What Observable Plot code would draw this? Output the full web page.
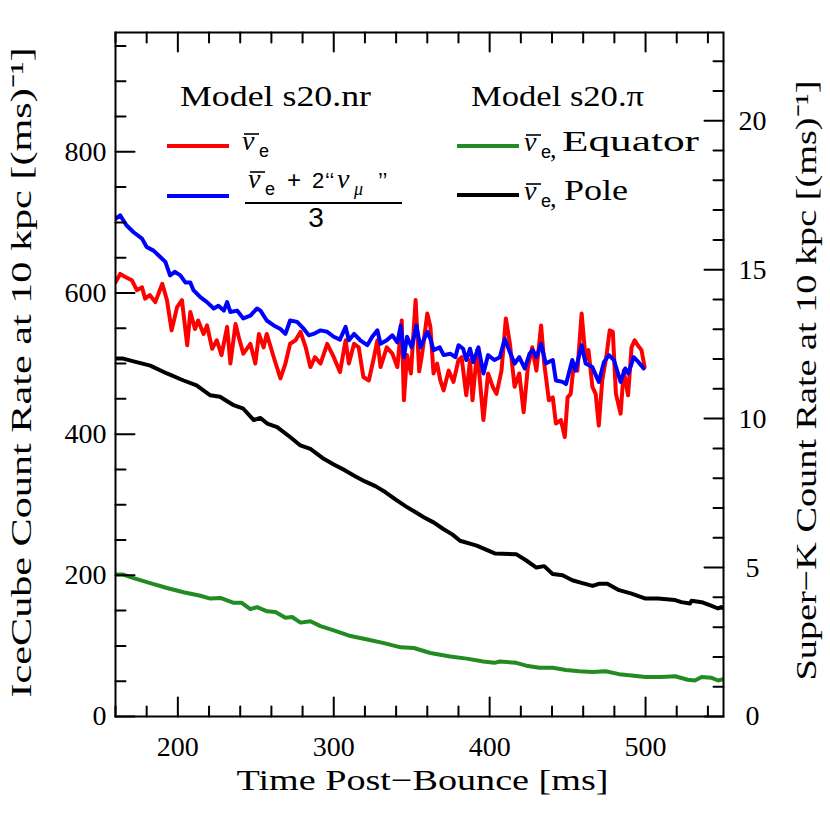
<!DOCTYPE html>
<html><head><meta charset="utf-8">
<script src="https://cdn.jsdelivr.net/npm/d3@7"></script>
<script src="https://cdn.jsdelivr.net/npm/@observablehq/plot@0.6"></script>
<style>html,body{margin:0;padding:0;background:#fff}svg{display:block}</style>
</head><body><div id="chart"></div>
<script>
// ---- data ----
const redT = [160,163,166,170.5,173.7,177,179,182,185.5,190,193,196,199.5,202.6,206,208,211,213,216.5,218.7,222,225,228,231.6,233.7,237,239,242,246.5,249.7,252,255,257,261.5,265.8,269,272,275.5,278.7,282,285,288,291.5,295.8,300,304,307.6,309.7,313,316,319,322.5,325.8,328,330,334,337.6,340.8,343.6,345,347,349.5,352.5,354.8,356.7,360,362,364,366.3,368.4,370.5,373.7,376.8,380,382,385,387.4,389,392,396,399,402,404.4,407.6,410.4,413,416,419,421.8,424.5,427.3,430,433,435,438,440.5,442.5,445.7,448.2,450,452,454,456.3,459,461.6,463.4,465.9,468,470,472.2,474.8,477,479,481,484,486,488.8,491,493,495,497.4,499.4];
const redV = [615,627,623,618,604,608,592,597,587,613,590,547,580,590,526,573,549,561,542,554,521,533,512,552,500,556,538,514,528,500,542,523,542,509,479,500,528,533,545,523,495,509,500,528,509,488,533,500,528,523,481,476,509,533,495,523,514,495,561,448,512,486,590,489,514,571,552,486,500,476,462,490,474,505,509,455,505,448,519,420,486,467,457,490,564,528,467,486,431,495,523,490,554,500,448,452,415,420,396,452,457,500,490,571,505,519,467,457,412,476,509,547,545,457,429,490,455,523,533,526,519,495];

const blueT = [160,163,167,171.6,177,180,184.4,188.7,192,195,198,201.6,204.8,208,210,214.4,218.7,223,226,229.5,231.6,233.7,238,242,246.5,250.8,253,257,261.5,265.8,269,272,276.5,280.8,284,287,291.5,295.8,300,304,307.6,309.7,313,317,321.5,324.7,328,330,334,337.6,340.8,343,345,347,350,353,355.6,360,362,364,368,370.5,374.7,378,380,383,385,387.4,389.5,392.8,396,399,403,406.5,409.7,413,416,419,422.5,425.6,427.7,430,433,436,440.5,442.5,446.8,449,451,453,455,459,461.6,465.8,470,473.3,476.5,479.7,484,487,489,492.4,495.5,498.8];
const blueV = [705,710,696,686,677,665,660,651,644,625,630,625,615,615,604,594,587,578,582,575,587,573,575,564,568,578,575,561,554,549,542,561,559,549,540,542,547,545,538,534,552,533,542,533,526,538,547,528,533,540,530,554,509,538,523,554,523,545,535,519,523,512,514,509,526,521,505,521,502,523,486,512,505,509,535,516,500,509,493,514,519,509,528,500,505,476,474,471,488,505,490,526,500,495,474,502,512,505,474,493,486,509,502,493];

const greenT = [160,165,171.6,182.3,193,203.7,214.4,220.8,227.3,235.8,241,246.5,250.8,257.3,262.6,269,273.3,278.7,285,291.5,300,310.8,321.5,332.2,343,351.4,362,374.7,385.3,396,403,406.5,417,423.5,432,440.4,449,457.4,466,474.3,483,491,500,510,519,527,531.6,536,542,546.5,550];
const greenV = [201,201,196,189,182,176,171,167,168,161,161,152,155,149,148,140,141,133,135,128,122,114,109,104,98,97,90,85,82,78,76,78,76,72,69,69,66,64,63,64,60,58,56,56,57,52,51,56,55,51,53];

const blackT = [160,165,171.6,182.3,193,203.7,212,220.8,227,235.8,242,248.7,253,257.3,263.7,272,278.6,285,293.6,300,307,314,320,327,333,340,346,352,358,364,370,376,381,391.7,403.3,417,423.5,430,435,440.4,446.8,453,459.5,466,470,475.5,483,491,500,508,519,523,528.5,529.5,536,542,546.5,548.5,550];
const blackV = [507,507,503,497,486,476,469,455,453,441,436,420,423,415,410,396,384,379,365,357,349,340,333,326,318,307,298,290,282,275,266,258,249,242,231,230,221,211,213,202,200,193,189,185,188,188,179,174,167,167,165,162,160,164,162,157,153,155,154];

// axes / ticks
const xMajor = [200,300,400,500];
const xMinor = [160,180,220,240,260,280,320,340,360,380,420,440,460,480,520,540];
const yMajor = [0,200,400,600,800];
const yMinor = [50,100,150,250,300,350,450,500,550,650,700,750,850,900,950];
const skMajor = [0,5,10,15,20];
const skMinor = [1,2,3,4,6,7,8,9,11,12,13,14,16,17,18,19,21,22];
const skPerIceCube = 42.2; // IceCube rate / Super-K rate (two axes)

const xTitle = "Time Post\u2212Bounce [ms]";
const yTitleLeft = "IceCube Count Rate at 10 kpc [(ms)\u207B\u00B9]";
const yTitleRight = "Super\u2212K Count Rate at 10 kpc [(ms)\u207B\u00B9]";
const legendTitles = ["Model s20.nr", "Model s20.\u03C0"];
const legendNames = ["Equator", "Pole"];

// ---- build table ----
const toRows = (T, V, s) => T.map((t, i) => ({t, v: V[i], s}));
const red = toRows(redT, redV, "red");
const blue = toRows(blueT, blueV, "blue");
const green = toRows(greenT, greenV, "green");
const black = toRows(blackT, blackV, "black");

const tickShape = {draw(ctx, l) { ctx.moveTo(0, 0); ctx.lineTo(0, -l); }};
const tk = (data, opts, len) => Plot.vector(data, {...opts, length: len, anchor: "start", shape: tickShape, stroke: "black", strokeWidth: 2});

const svg = Plot.plot({
  width: 830, height: 830,
  marginLeft: 115, marginRight: 107, marginTop: 32, marginBottom: 114,
  style: {fontFamily: "'Liberation Serif', serif", background: "white", color: "black"},
  x: {domain: [160, 550]},
  y: {domain: [0, 969]},
  marks: [
    Plot.line(red, {x: "t", y: "v", stroke: "#ff0000", strokeWidth: 4, clip: true}),
    Plot.line(blue, {x: "t", y: "v", stroke: "#0000ff", strokeWidth: 4, clip: true}),
    Plot.line(green, {x: "t", y: "v", stroke: "#228b22", strokeWidth: 4, clip: true}),
    Plot.line(black, {x: "t", y: "v", stroke: "#000000", strokeWidth: 4, clip: true}),
    Plot.frame({stroke: "black", strokeWidth: 2}),
    tk(xMinor, {x: d => d, frameAnchor: "bottom", rotate: 0}, 10),
    tk(xMajor, {x: d => d, frameAnchor: "bottom", rotate: 0}, 19),
    tk(xMinor, {x: d => d, frameAnchor: "top", rotate: 180}, 10),
    tk(xMajor, {x: d => d, frameAnchor: "top", rotate: 180}, 19),
    tk(yMinor, {y: d => d, frameAnchor: "left", rotate: 90}, 10),
    tk(yMajor, {y: d => d, frameAnchor: "left", rotate: 90}, 19),
    tk(skMinor, {y: d => d * skPerIceCube, frameAnchor: "right", rotate: -90}, 10),
    tk(skMajor, {y: d => d * skPerIceCube, frameAnchor: "right", rotate: -90}, 19),
    Plot.axisX({ticks: xMajor, tickSize: 0, tickPadding: 20, fontSize: 28, label: null}),
    Plot.axisY({ticks: yMajor, tickSize: 0, tickPadding: 9, fontSize: 28, label: null}),
    Plot.axisY({anchor: "right", ticks: skMajor.map(v => v * skPerIceCube), tickFormat: d => String(Math.round(d / skPerIceCube)),
      tickSize: 0, tickPadding: 29, textAnchor: "middle", fontSize: 28, label: null}),
    Plot.text([xTitle], {text: d => d, frameAnchor: "bottom", dy: 73, dx: -183, textAnchor: "start", lineAnchor: "bottom", fontSize: 30}),
    Plot.text([yTitleLeft], {text: d => d, frameAnchor: "left", dx: -94, dy: 323, rotate: -90, textAnchor: "start", lineAnchor: "middle", fontSize: 30}),
    Plot.text([yTitleRight], {text: d => d, frameAnchor: "right", dx: 83, dy: 306, rotate: -90, textAnchor: "start", lineAnchor: "middle", fontSize: 30})
  ]
});

const S = d3.select(svg);
const stretch = (str, L) => S.selectAll("text").filter(function() { return this.textContent === str; })
  .attr("textLength", L).attr("lengthAdjust", "spacingAndGlyphs");
stretch(xTitle, 372);
stretch(yTitleLeft, 650);
stretch(yTitleRight, 600);

// ---- legend ----
const lg = S.append("g").attr("font-family", "'Liberation Serif', serif").attr("fill", "black").attr("text-anchor", "start");
const seg = (x1, x2, y, c, w) => lg.append("line").attr("x1", x1).attr("x2", x2).attr("y1", y).attr("y2", y).attr("stroke", c).attr("stroke-width", w);
const txt = (x, y, s, size, o = {}) => {
  const t = lg.append("text").attr("x", x).attr("y", y).attr("font-size", size).attr("text-anchor", o.anchor || "start").text(s);
  if (o.fam) t.attr("font-family", o.fam);
  if (o.it) t.attr("font-style", "italic");
  if (o.len) t.attr("textLength", o.len).attr("lengthAdjust", "spacingAndGlyphs");
  return t;
};
const nuBar = (x, base) => {
  txt(x, base, "\u03BD", 28, {it: true});
  seg(x + 2, x + 17, base - 16, "black", 1.6);
  txt(x + 17, base + 7, "e", 18, {fam: "'Liberation Sans', sans-serif"});
};
txt(180, 106, legendTitles[0], 30, {len: 191});
txt(471, 106, legendTitles[1], 30, {len: 173});
// red
seg(167, 229, 146, "#ff0000", 4);
nuBar(242, 150);
// blue
seg(167, 229, 196, "#0000ff", 4);
nuBar(248, 188);
txt(287, 188, "+", 24, {fam: "'Liberation Sans', sans-serif"});
txt(312, 188, "2", 22, {fam: "'Liberation Sans', sans-serif"});
txt(325, 188, "\u2018\u2018", 22, {fam: "'Liberation Sans', sans-serif"});
txt(337, 188, "\u03BD", 28, {it: true});
txt(354, 195, "\u03BC", 18, {it: true});
txt(378, 188, "\u2019\u2019", 22, {fam: "'Liberation Sans', sans-serif"});
seg(245, 402, 203, "black", 2);
txt(316, 227, "3", 28, {fam: "'Liberation Sans', sans-serif", anchor: "middle"});
// green
seg(457, 519, 146, "#228b22", 4);
nuBar(524, 151);
txt(550, 158, ",", 26);
txt(562, 151, legendNames[0], 30, {len: 137});
// black
seg(457, 519, 195, "#000000", 4);
nuBar(524, 200);
txt(550, 207, ",", 26);
txt(564, 200, legendNames[1], 30, {len: 64});

document.getElementById("chart").appendChild(svg);
</script>
</body></html>
